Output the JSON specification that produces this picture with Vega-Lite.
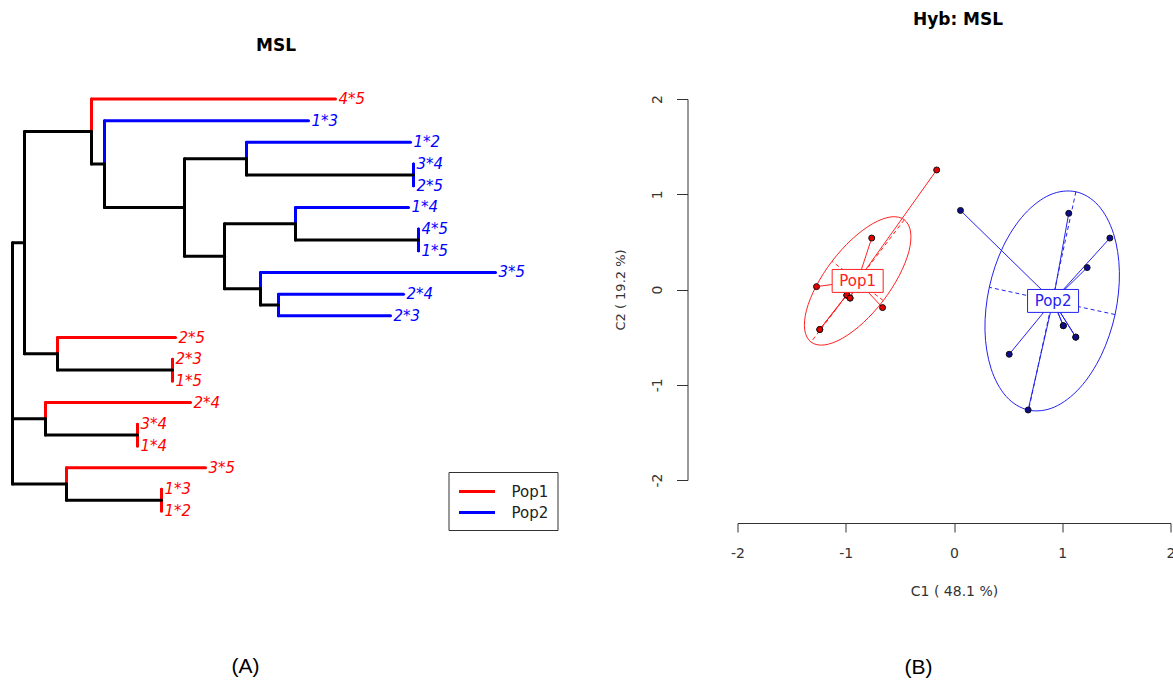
{
 "$schema": "https://vega.github.io/schema/vega-lite/v6.json",
 "background": "white",
 "padding": {"left": 10.5, "top": 10, "right": 0, "bottom": 0},
 "autosize": {"type": "pad"},
 "bounds": "flush",
 "spacing": 180,
 "config": {"view": {"stroke": null}, "font": "DejaVu Sans"},
 "resolve": {"scale": {"color": "independent"}, "legend": {"color": "independent"}},
 "datasets": {
  "edges": [
   {"px":0,"py":14.04,"cx":0.12,"cy":7.625,"grp":"internal"},
   {"px":0,"py":14.04,"cx":0.33,"cy":15.75,"grp":"internal"},
   {"px":0,"py":14.04,"cx":0.54,"cy":18.75,"grp":"internal"},
   {"px":0.12,"py":7.625,"cx":0.79,"cy":2.5,"grp":"internal"},
   {"px":0.12,"py":7.625,"cx":0.45,"cy":12.75,"grp":"internal"},
   {"px":0.79,"py":2.5,"cx":3.23,"cy":1,"grp":"Pop1","label":"4*5"},
   {"px":0.79,"py":2.5,"cx":0.92,"cy":4,"grp":"internal"},
   {"px":0.92,"py":4,"cx":2.96,"cy":2,"grp":"Pop2","label":"1*3"},
   {"px":0.92,"py":4,"cx":1.72,"cy":6,"grp":"internal"},
   {"px":1.72,"py":6,"cx":2.34,"cy":3.75,"grp":"internal"},
   {"px":1.72,"py":6,"cx":2.12,"cy":8.25,"grp":"internal"},
   {"px":2.34,"py":3.75,"cx":3.98,"cy":3,"grp":"Pop2","label":"1*2"},
   {"px":2.34,"py":3.75,"cx":4.01,"cy":4.5,"grp":"internal"},
   {"px":4.01,"py":4.5,"cx":4.01,"cy":4,"grp":"Pop2","label":"3*4"},
   {"px":4.01,"py":4.5,"cx":4.01,"cy":5,"grp":"Pop2","label":"2*5"},
   {"px":2.12,"py":8.25,"cx":2.83,"cy":6.75,"grp":"internal"},
   {"px":2.12,"py":8.25,"cx":2.48,"cy":9.75,"grp":"internal"},
   {"px":2.83,"py":6.75,"cx":3.96,"cy":6,"grp":"Pop2","label":"1*4"},
   {"px":2.83,"py":6.75,"cx":4.06,"cy":7.5,"grp":"internal"},
   {"px":4.06,"py":7.5,"cx":4.06,"cy":7,"grp":"Pop2","label":"4*5"},
   {"px":4.06,"py":7.5,"cx":4.06,"cy":8,"grp":"Pop2","label":"1*5"},
   {"px":2.48,"py":9.75,"cx":4.83,"cy":9,"grp":"Pop2","label":"3*5"},
   {"px":2.48,"py":9.75,"cx":2.66,"cy":10.5,"grp":"internal"},
   {"px":2.66,"py":10.5,"cx":3.91,"cy":10,"grp":"Pop2","label":"2*4"},
   {"px":2.66,"py":10.5,"cx":3.78,"cy":11,"grp":"Pop2","label":"2*3"},
   {"px":0.45,"py":12.75,"cx":1.63,"cy":12,"grp":"Pop1","label":"2*5"},
   {"px":0.45,"py":12.75,"cx":1.6,"cy":13.5,"grp":"internal"},
   {"px":1.6,"py":13.5,"cx":1.6,"cy":13,"grp":"Pop1","label":"2*3"},
   {"px":1.6,"py":13.5,"cx":1.6,"cy":14,"grp":"Pop1","label":"1*5"},
   {"px":0.33,"py":15.75,"cx":1.78,"cy":15,"grp":"Pop1","label":"2*4"},
   {"px":0.33,"py":15.75,"cx":1.25,"cy":16.5,"grp":"internal"},
   {"px":1.25,"py":16.5,"cx":1.25,"cy":16,"grp":"Pop1","label":"3*4"},
   {"px":1.25,"py":16.5,"cx":1.25,"cy":17,"grp":"Pop1","label":"1*4"},
   {"px":0.54,"py":18.75,"cx":1.93,"cy":18,"grp":"Pop1","label":"3*5"},
   {"px":0.54,"py":18.75,"cx":1.49,"cy":19.5,"grp":"internal"},
   {"px":1.49,"py":19.5,"cx":1.49,"cy":19,"grp":"Pop1","label":"1*3"},
   {"px":1.49,"py":19.5,"cx":1.49,"cy":20,"grp":"Pop1","label":"1*2"}
  ],
  "ell": [
   {"pop":"Pop1","i":0,"x":-0.459,"y":0.732},
   {"pop":"Pop1","i":1,"x":-0.401,"y":0.604},
   {"pop":"Pop1","i":2,"x":-0.417,"y":0.398},
   {"pop":"Pop1","i":3,"x":-0.506,"y":0.146},
   {"pop":"Pop1","i":4,"x":-0.653,"y":-0.116},
   {"pop":"Pop1","i":5,"x":-0.836,"y":-0.346},
   {"pop":"Pop1","i":6,"x":-1.027,"y":-0.51},
   {"pop":"Pop1","i":7,"x":-1.197,"y":-0.582},
   {"pop":"Pop1","i":8,"x":-1.321,"y":-0.552},
   {"pop":"Pop1","i":9,"x":-1.379,"y":-0.424},
   {"pop":"Pop1","i":10,"x":-1.363,"y":-0.218},
   {"pop":"Pop1","i":11,"x":-1.274,"y":0.034},
   {"pop":"Pop1","i":12,"x":-1.127,"y":0.296},
   {"pop":"Pop1","i":13,"x":-0.944,"y":0.526},
   {"pop":"Pop1","i":14,"x":-0.753,"y":0.69},
   {"pop":"Pop1","i":15,"x":-0.583,"y":0.762},
   {"pop":"Pop2","i":0,"x":1.126,"y":1.026},
   {"pop":"Pop2","i":1,"x":1.332,"y":0.884},
   {"pop":"Pop2","i":2,"x":1.473,"y":0.589},
   {"pop":"Pop2","i":3,"x":1.528,"y":0.187},
   {"pop":"Pop2","i":4,"x":1.488,"y":-0.263},
   {"pop":"Pop2","i":5,"x":1.36,"y":-0.691},
   {"pop":"Pop2","i":6,"x":1.164,"y":-1.031},
   {"pop":"Pop2","i":7,"x":0.928,"y":-1.234},
   {"pop":"Pop2","i":8,"x":0.689,"y":-1.266},
   {"pop":"Pop2","i":9,"x":0.483,"y":-1.124},
   {"pop":"Pop2","i":10,"x":0.342,"y":-0.829},
   {"pop":"Pop2","i":11,"x":0.286,"y":-0.427},
   {"pop":"Pop2","i":12,"x":0.326,"y":0.023},
   {"pop":"Pop2","i":13,"x":0.454,"y":0.451},
   {"pop":"Pop2","i":14,"x":0.651,"y":0.791},
   {"pop":"Pop2","i":15,"x":0.887,"y":0.994}
  ],
  "ax": [
   {"pop":"Pop1","x":-0.459,"y":0.732,"x2":-1.321,"y2":-0.552},
   {"pop":"Pop1","x":-0.653,"y":-0.116,"x2":-1.127,"y2":0.296},
   {"pop":"Pop2","x":1.126,"y":1.026,"x2":0.689,"y2":-1.266},
   {"pop":"Pop2","x":1.488,"y":-0.263,"x2":0.326,"y2":0.023}
  ],
  "pts": [
   {"pop":"Pop1","x":-0.16,"y":1.255},
   {"pop":"Pop1","x":-0.76,"y":0.54},
   {"pop":"Pop1","x":-1.27,"y":0.03},
   {"pop":"Pop1","x":-0.99,"y":-0.06},
   {"pop":"Pop1","x":-0.99,"y":-0.06},
   {"pop":"Pop1","x":-0.96,"y":-0.09},
   {"pop":"Pop1","x":-0.96,"y":-0.09},
   {"pop":"Pop1","x":-0.66,"y":-0.19},
   {"pop":"Pop1","x":-1.24,"y":-0.42},
   {"pop":"Pop1","x":-1.24,"y":-0.42},
   {"pop":"Pop2","x":0.06,"y":0.83},
   {"pop":"Pop2","x":1.06,"y":0.8},
   {"pop":"Pop2","x":1.44,"y":0.54},
   {"pop":"Pop2","x":1.23,"y":0.23},
   {"pop":"Pop2","x":1.01,"y":-0.38},
   {"pop":"Pop2","x":1.01,"y":-0.38},
   {"pop":"Pop2","x":1.125,"y":-0.5},
   {"pop":"Pop2","x":1.125,"y":-0.5},
   {"pop":"Pop2","x":0.51,"y":-0.68},
   {"pop":"Pop2","x":0.685,"y":-1.265}
  ],
  "cent": [
   {"pop":"Pop1","x":-0.89,"y":0.09},
   {"pop":"Pop2","x":0.915,"y":-0.12}
  ]
 },
 "hconcat": [
  {
   "width": 545,
   "height": 412,
   "title": {"text": "MSL", "font": "DejaVu Sans", "fontSize": 17, "fontWeight": "bold", "color": "black", "offset": 37, "frame": "group", "dx": -9},
   "layer": [
    {
     "data": {"name": "edges"},
     "mark": {"type": "rule", "strokeWidth": 3, "strokeCap": "round"},
     "encoding": {
      "x": {"field": "px", "type": "quantitative", "scale": {"domain": [0, 5.45], "nice": false, "zero": false}, "axis": null},
      "y": {"field": "py", "type": "quantitative", "scale": {"domain": [1, 20], "reverse": true, "nice": false, "zero": false}, "axis": null},
      "y2": {"field": "cy"},
      "color": {"field": "grp", "type": "nominal", "scale": {"domain": ["Pop1", "Pop2", "internal"], "range": ["#ff0000", "#0000ff", "#000000"]},
       "legend": {"orient": "none", "legendX": 436, "legendY": 373, "values": ["Pop1", "Pop2"], "title": null, "symbolType": "M-2,0H2", "symbolStrokeWidth": 3, "symbolSize": 324, "symbolOffset": 9, "labelFont": "DejaVu Sans", "labelFontSize": 15, "labelColor": "#222", "strokeColor": "#333", "fillColor": "white", "padding": 9, "rowPadding": 2, "labelOffset": 24}}
     }
    },
    {
     "data": {"name": "edges"},
     "mark": {"type": "rule", "strokeWidth": 3, "strokeCap": "round"},
     "encoding": {
      "x": {"field": "px", "type": "quantitative", "axis": null},
      "x2": {"field": "cx"},
      "y": {"field": "cy", "type": "quantitative", "axis": null},
      "color": {"field": "grp", "type": "nominal"}
     }
    },
    {
     "data": {"name": "edges"},
     "transform": [{"filter": "datum.label != null"}],
     "mark": {"type": "text", "align": "left", "baseline": "middle", "dx": 3, "font": "DejaVu Sans", "fontStyle": "italic", "fontSize": 15},
     "encoding": {
      "x": {"field": "cx", "type": "quantitative", "axis": null},
      "y": {"field": "cy", "type": "quantitative", "axis": null},
      "text": {"field": "label"},
      "color": {"field": "grp", "type": "nominal"}
     }
    },
    {
     "data": {"values": [{"tag": "(A)", "px": 2.33, "cy": 27.2}]},
     "mark": {"type": "text", "align": "center", "baseline": "middle", "font": "Liberation Sans", "fontSize": 21, "color": "black"},
     "encoding": {
      "x": {"field": "px", "type": "quantitative", "axis": null},
      "y": {"field": "cy", "type": "quantitative", "axis": null},
      "text": {"field": "tag"}
     }
    }
   ]
  },
  {
   "width": 433,
   "height": 381,
   "title": {"text": "Hyb: MSL", "font": "DejaVu Sans", "fontSize": 17, "fontWeight": "bold", "color": "black", "offset": 66, "frame": "group", "dx": 4},
   "encoding": {
    "x": {"field": "x", "type": "quantitative", "scale": {"domain": [-2, 2], "nice": false, "zero": false},
     "axis": {"orient": "bottom", "offset": 43, "values": [-2, -1, 0, 1, 2], "labelExpr": "toString(datum.value)", "title": "C1 ( 48.1 %)", "grid": false, "tickSize": 9, "labelPadding": 14, "labelFont": "DejaVu Sans", "labelFontSize": 14, "labelColor": "#333", "titleFont": "DejaVu Sans", "titleFontSize": 14, "titleFontWeight": "normal", "titleColor": "#333", "titlePadding": 24, "domainColor": "#333", "tickColor": "#333", "labelFlush": false}},
    "y": {"field": "y", "type": "quantitative", "scale": {"domain": [-2, 2], "nice": false, "zero": false},
     "axis": {"orient": "left", "offset": 50, "values": [-2, -1, 0, 1, 2], "labelExpr": "toString(datum.value)", "labelAngle": 270, "title": "C2 ( 19.2 %)", "grid": false, "tickSize": 11, "labelPadding": 12, "labelFont": "DejaVu Sans", "labelFontSize": 14, "labelColor": "#333", "titleFont": "DejaVu Sans", "titleFontSize": 13, "titleFontWeight": "normal", "titleColor": "#333", "titlePadding": 23, "domainColor": "#333", "tickColor": "#333", "labelFlush": false}}
   },
   "layer": [
    {
     "data": {"name": "ell"},
     "mark": {"type": "line", "interpolate": "cardinal-closed", "strokeWidth": 1},
     "encoding": {
      "order": {"field": "i", "type": "quantitative"},
      "color": {"field": "pop", "type": "nominal", "scale": {"domain": ["Pop1", "Pop2"], "range": ["#ff2020", "#2222ee"]}, "legend": null}
     }
    },
    {
     "data": {"name": "ax"},
     "mark": {"type": "rule", "strokeWidth": 1, "strokeDash": [4, 3]},
     "encoding": {
      "x2": {"field": "x2"},
      "y2": {"field": "y2"},
      "color": {"field": "pop", "type": "nominal"}
     }
    },
    {
     "data": {"name": "pts"},
     "transform": [{"lookup": "pop", "from": {"data": {"name": "cent"}, "key": "pop", "fields": ["x", "y"]}, "as": ["cx", "cy"]}],
     "mark": {"type": "rule", "strokeWidth": 1},
     "encoding": {
      "x2": {"field": "cx"},
      "y2": {"field": "cy"},
      "color": {"field": "pop", "type": "nominal"}
     }
    },
    {
     "data": {"name": "pts"},
     "mark": {"type": "point", "shape": "circle", "filled": true, "size": 36, "stroke": "#111", "strokeWidth": 1, "opacity": 1},
     "encoding": {
      "fill": {"field": "pop", "type": "nominal", "scale": {"domain": ["Pop1", "Pop2"], "range": ["#e60000", "#0c0c8c"]}, "legend": null}
     }
    },
    {
     "data": {"name": "cent"},
     "mark": {"type": "point", "shape": "M-1,-0.45H1V0.45H-1Z", "size": 2601, "filled": true, "fill": "white", "strokeWidth": 1, "opacity": 1},
     "encoding": {
      "stroke": {"field": "pop", "type": "nominal", "scale": {"domain": ["Pop1", "Pop2"], "range": ["#ff2020", "#2222ee"]}, "legend": null}
     }
    },
    {
     "data": {"name": "cent"},
     "mark": {"type": "text", "align": "center", "baseline": "middle", "font": "DejaVu Sans", "fontSize": 15},
     "encoding": {
      "text": {"field": "pop"},
      "color": {"field": "pop", "type": "nominal"}
     }
    },
    {
     "data": {"values": [{"tag": "(B)", "x": -0.328, "y": -3.97}]},
     "mark": {"type": "text", "align": "center", "baseline": "middle", "font": "Liberation Sans", "fontSize": 21, "color": "black"},
     "encoding": {
      "text": {"field": "tag"}
     }
    }
   ]
  }
 ]
}
